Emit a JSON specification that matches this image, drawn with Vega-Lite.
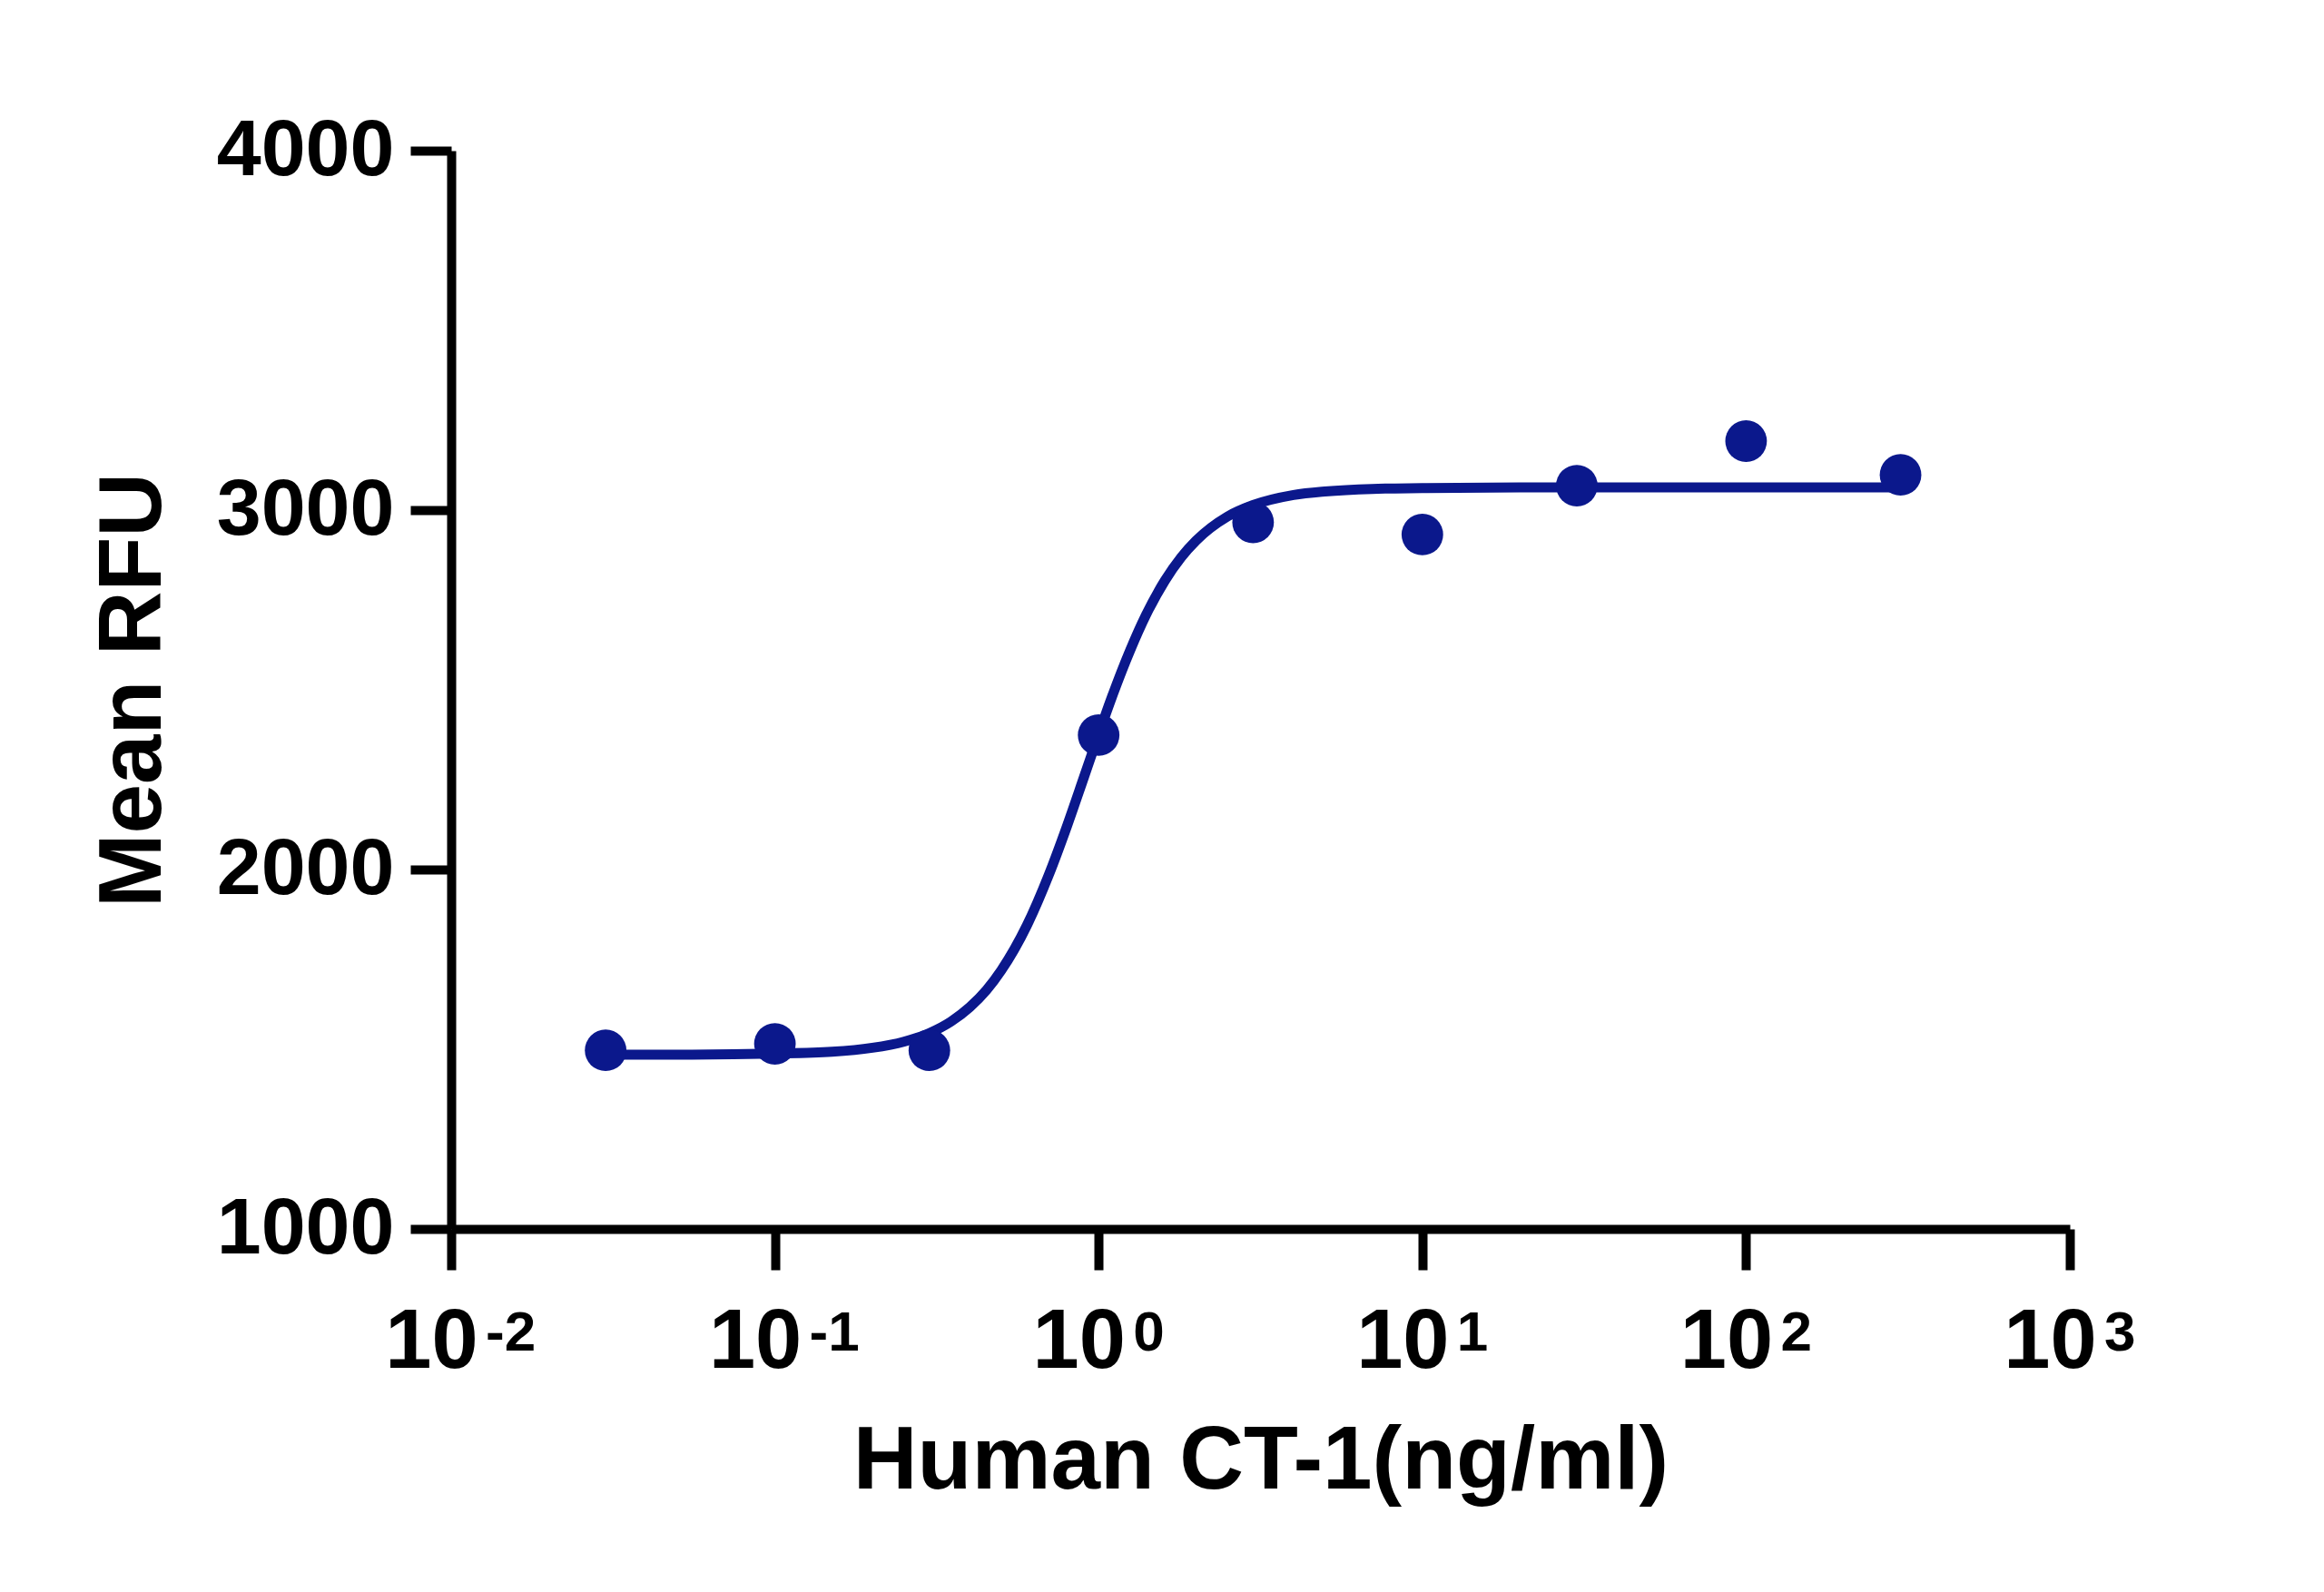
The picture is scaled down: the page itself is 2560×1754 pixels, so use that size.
{
  "$schema": "https://vega.github.io/schema/vega-lite/v6.json",
  "width": 1783,
  "height": 1188,
  "autosize": {"type": "none"},
  "padding": {"left": 497, "top": 166, "right": 280, "bottom": 400},
  "background": "white",
  "config": {
    "view": {"stroke": null},
    "font": "Liberation Sans",
    "axis": {
      "grid": false,
      "domainColor": "black",
      "domainWidth": 10,
      "tickColor": "black",
      "tickWidth": 10,
      "tickSize": 45,
      "labelFont": "Liberation Sans",
      "labelFontWeight": "bold",
      "labelFontSize": 88,
      "labelColor": "black",
      "labelLimit": 0,
      "titleFont": "Liberation Sans",
      "titleFontWeight": "bold",
      "titleFontSize": 98,
      "titleColor": "black"
    }
  },
  "datasets": {
    "points": [
      {"conc": 0.03, "rfu": 1497},
      {"conc": 0.1, "rfu": 1515},
      {"conc": 0.3, "rfu": 1497},
      {"conc": 1, "rfu": 2374},
      {"conc": 3, "rfu": 2966},
      {"conc": 10, "rfu": 2932},
      {"conc": 30, "rfu": 3068},
      {"conc": 100, "rfu": 3192},
      {"conc": 300, "rfu": 3098}
    ],
    "curve": [
      {"conc": 0.03, "rfu": 1485},
      {"conc": 0.05, "rfu": 1485},
      {"conc": 0.1, "rfu": 1488},
      {"conc": 0.15, "rfu": 1493},
      {"conc": 0.2, "rfu": 1504},
      {"conc": 0.25, "rfu": 1521},
      {"conc": 0.3, "rfu": 1545},
      {"conc": 0.35, "rfu": 1577},
      {"conc": 0.4, "rfu": 1617},
      {"conc": 0.45, "rfu": 1664},
      {"conc": 0.5, "rfu": 1719},
      {"conc": 0.6, "rfu": 1844},
      {"conc": 0.7, "rfu": 1983},
      {"conc": 0.8, "rfu": 2123},
      {"conc": 0.9, "rfu": 2256},
      {"conc": 1.0, "rfu": 2376},
      {"conc": 1.1, "rfu": 2481},
      {"conc": 1.25, "rfu": 2609},
      {"conc": 1.4, "rfu": 2708},
      {"conc": 1.6, "rfu": 2803},
      {"conc": 1.8, "rfu": 2869},
      {"conc": 2.0, "rfu": 2915},
      {"conc": 2.5, "rfu": 2982},
      {"conc": 3, "rfu": 3014},
      {"conc": 4, "rfu": 3042},
      {"conc": 5, "rfu": 3052},
      {"conc": 7, "rfu": 3059},
      {"conc": 10, "rfu": 3061},
      {"conc": 20, "rfu": 3063},
      {"conc": 50, "rfu": 3063},
      {"conc": 100, "rfu": 3063},
      {"conc": 300, "rfu": 3063}
    ],
    "exponents": [
      {"conc": 0.01, "exp": "-2"},
      {"conc": 0.1, "exp": "-1"},
      {"conc": 1, "exp": "0"},
      {"conc": 10, "exp": "1"},
      {"conc": 100, "exp": "2"},
      {"conc": 1000, "exp": "3"}
    ]
  },
  "layer": [
    {
      "data": {"name": "curve"},
      "mark": {"type": "line", "color": "#0b188c", "strokeWidth": 11, "interpolate": "monotone"},
      "encoding": {
        "x": {
          "field": "conc",
          "type": "quantitative",
          "scale": {"type": "log", "domain": [0.01, 1000], "nice": false},
          "axis": {
            "title": "Human CT-1(ng/ml)",
            "values": [0.01, 0.1, 1, 10, 100, 1000],
            "labelExpr": "'10'",
            "labelFontSize": 92,
            "labelOffset": -22,
            "labelPadding": 34,
            "titlePadding": 38,
            "labelFlush": false
          }
        },
        "y": {
          "field": "rfu",
          "type": "quantitative",
          "scale": {"domain": [1000, 4000], "nice": false, "zero": false},
          "axis": {
            "title": "Mean RFU",
            "values": [1000, 2000, 3000, 4000],
            "format": "d",
            "labelPadding": 18,
            "titlePadding": 100,
            "labelFlush": false
          }
        }
      }
    },
    {
      "data": {"name": "points"},
      "mark": {"type": "point", "filled": true, "shape": "circle", "size": 2100, "color": "#0b188c", "opacity": 1},
      "encoding": {
        "x": {"field": "conc", "type": "quantitative"},
        "y": {"field": "rfu", "type": "quantitative"}
      }
    },
    {
      "data": {"name": "exponents"},
      "mark": {"type": "text", "align": "left", "baseline": "alphabetic", "dx": 38, "dy": 134, "font": "Liberation Sans", "fontWeight": "bold", "fontSize": 62, "fill": "black"},
      "encoding": {
        "x": {"field": "conc", "type": "quantitative"},
        "y": {"datum": 1000, "type": "quantitative"},
        "text": {"field": "exp", "type": "nominal"}
      }
    }
  ]
}
